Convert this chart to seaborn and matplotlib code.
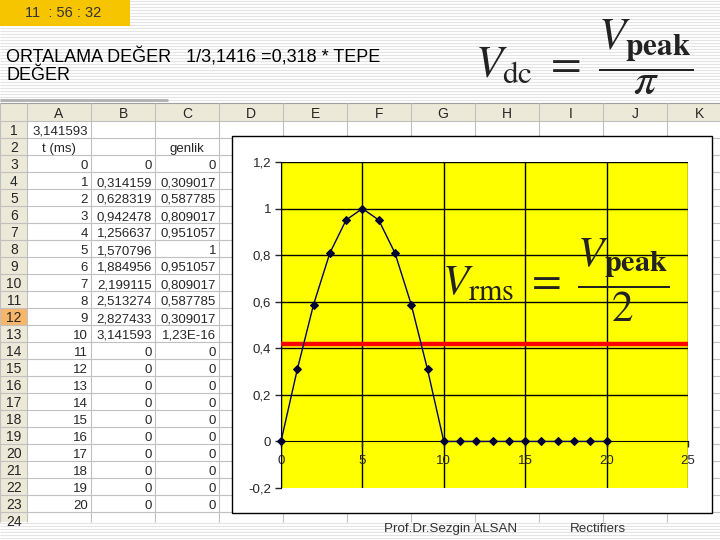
import matplotlib
matplotlib.use("Agg")
import numpy as np
import matplotlib.pyplot as plt
from matplotlib.patches import Rectangle
from matplotlib.ticker import FuncFormatter
import seaborn as sns

# worksheet values
pi_cell = 3.141593
t_ms = [0, 1, 2, 3, 4, 5, 6, 7, 8, 9, 10, 11, 12, 13, 14, 15, 16, 17, 18, 19, 20]
radyan = [0, 0.314159, 0.628319, 0.942478, 1.256637, 1.570796, 1.884956,
          2.199115, 2.513274, 2.827433, 3.141593, 0, 0, 0, 0, 0, 0, 0, 0, 0, 0]
genlik = [0, 0.309017, 0.587785, 0.809017, 0.951057, 1, 0.951057,
          0.809017, 0.587785, 0.309017, 1.23e-16, 0, 0, 0, 0, 0, 0, 0, 0, 0, 0]
ortalama = 0.42   # red line
col_letters = ["A", "B", "C", "D", "E", "F", "G", "H", "I", "J", "K"]
x_ticks = [0, 5, 10, 15, 20, 25]
y_ticks = [-0.2, 0, 0.2, 0.4, 0.6, 0.8, 1, 1.2]

sns.set_style("white")
plt.rcParams['font.family'] = ['Liberation Sans', 'DejaVu Sans']
plt.rcParams['mathtext.fontset'] = 'stix'


def excel_fmt(v):
    # mimic Excel "General" with comma decimals
    if v != 0 and abs(v) < 1e-6:
        s = "%.2E" % v
    else:
        s = ("%.6f" % v).rstrip("0").rstrip(".")
    return s.replace(".", ",")


fig = plt.figure(figsize=(7.2, 5.4), dpi=100)

# background layer in pixel coordinates
bg = fig.add_axes([0, 0, 1, 1])
bg.set_xlim(0, 720)
bg.set_ylim(540, 0)
bg.axis("off")

# slide stripes
bg.hlines(np.arange(1, 540, 3), 0, 720, color="#e4e4e4", lw=0.8, zorder=0)

# clock box
bg.add_patch(Rectangle((0, 0), 130, 26, facecolor="#F7C500", edgecolor="none", zorder=1))
bg.text(63, 13, "11  : 56 : 32", ha="center", va="center", fontsize=10.5, color="#333333", zorder=2)

# heading
bg.text(6, 57, "ORTALAMA DEĞER   1/3,1416 =0,318 * TEPE", ha="left", va="center",
        fontsize=13, color="black", zorder=2)
bg.text(6, 76, "DEĞER", ha="left", va="center", fontsize=13, color="black", zorder=2)

# Vdc formula
fig.text(584 / 720, 1 - 57 / 540, r"$V_{\mathrm{dc}}\ =\ \dfrac{V_{\mathbf{peak}}}{\pi}$",
         ha="center", va="center", fontsize=32, color="#222222")

# spreadsheet
sheet_top, head_h, row_h, sheet_bot = 103, 18, 17, 522
col_edges = [0, 27] + [27 + 64 * (i + 1) for i in range(len(col_letters))]
bg.add_patch(Rectangle((0, sheet_top), 720, sheet_bot - sheet_top, facecolor="white",
                       edgecolor="none", zorder=1))
bg.add_patch(Rectangle((0, sheet_top), 720, head_h, facecolor="#ECE9D8", edgecolor="none", zorder=1))
bg.add_patch(Rectangle((0, sheet_top), 27, sheet_bot - sheet_top, facecolor="#ECE9D8",
                       edgecolor="none", zorder=1))
bg.hlines([100], 0, 168, color="#b0b0b0", lw=2, zorder=1)

row_top = sheet_top + head_h
n_rows = 24
# active row highlight
bg.add_patch(Rectangle((0, row_top + 11 * row_h), 27, row_h, facecolor="#F8B66A",
                       edgecolor="none", zorder=1))
for k in range(n_rows + 1):
    y = row_top + k * row_h
    if y < sheet_bot:
        bg.hlines(y, 0, 720, color="#c0c0c0", lw=0.8, zorder=1.5)
bg.hlines(sheet_top, 0, 720, color="#a0a0a0", lw=0.8, zorder=1.5)
for xe in col_edges:
    bg.vlines(xe, sheet_top, sheet_bot, color="#c0c0c0", lw=0.8, zorder=1.5)

for i, c in enumerate(col_letters):
    xc = (col_edges[i + 1] + col_edges[i + 2]) / 2
    bg.text(xc, sheet_top + head_h - 3, c, ha="center", va="baseline", fontsize=10, zorder=2)
for k in range(n_rows):
    yb = row_top + (k + 1) * row_h - 3
    bg.text(14, yb, str(k + 1), ha="center", va="baseline", fontsize=10, zorder=2)


def cell(col, row, s, ha="right"):
    x0, x1 = col_edges[col + 1], col_edges[col + 2]
    yb = row_top + row * row_h - 3
    if ha == "right":
        bg.text(x1 - 3, yb, s, ha="right", va="baseline", fontsize=9.5, zorder=2)
    else:
        bg.text((x0 + x1) / 2, yb, s, ha="center", va="baseline", fontsize=9.5, zorder=2)


cell(0, 1, excel_fmt(pi_cell))
cell(0, 2, "t (ms)", ha="center")
cell(2, 2, "genlik", ha="center")
for i in range(len(t_ms)):
    cell(0, 3 + i, excel_fmt(t_ms[i]))
    cell(1, 3 + i, excel_fmt(radyan[i]))
    cell(2, 3 + i, excel_fmt(genlik[i]))

# chart area
bg.add_patch(Rectangle((232, 136), 480, 377, facecolor="white", edgecolor="black", lw=1, zorder=3))

# footer
bg.text(384, 529, "Prof.Dr.Sezgin ALSAN", ha="left", va="center", fontsize=9.6, color="#333333", zorder=2)
bg.text(570, 529, "Rectifiers", ha="left", va="center", fontsize=9.6, color="#333333", zorder=2)

# plot area
ax = fig.add_axes([281 / 720, 1 - 488 / 540, 407 / 720, 326 / 540])
ax.set_facecolor("#FFFF00")
sns.lineplot(x=t_ms, y=genlik, ax=ax, color="#000066", lw=1, marker="D", markersize=3.6,
             markeredgecolor="#000033", markerfacecolor="#000033", clip_on=False, zorder=4)
ax.axhline(ortalama, color="#FF0000", lw=3.2, zorder=3)

ax.set_xlim(0, 25)
ax.set_ylim(-0.2, 1.2)
ax.set_xticks(x_ticks)
ax.set_yticks(y_ticks)
fmt = FuncFormatter(lambda v, p: ("%g" % round(v, 2)).replace(".", ","))
ax.xaxis.set_major_formatter(fmt)
ax.yaxis.set_major_formatter(fmt)
ax.grid(True, color="black", lw=1)
for gl, v in zip(ax.get_xgridlines(), x_ticks):
    if v in (0, 25):
        gl.set_visible(False)
for gl, v in zip(ax.get_ygridlines(), y_ticks):
    if v in (-0.2, 0):
        gl.set_visible(False)
ax.spines["top"].set_visible(False)
ax.spines["right"].set_visible(False)
ax.spines["bottom"].set_position(("data", 0))
ax.spines["left"].set_color("black")
ax.spines["bottom"].set_color("black")
ax.tick_params(axis="y", direction="out", length=4, width=1, pad=3, labelsize=9.5, left=True)
ax.tick_params(axis="x", direction="out", length=4, width=1, pad=6, labelsize=9.5, bottom=True)
ax.set_xlabel("")
ax.set_ylabel("")

# Vrms formula
fig.text(556 / 720, 1 - 280 / 540, r"$V_{\mathrm{rms}}\ =\ \dfrac{V_{\mathbf{peak}}}{2}$",
         ha="center", va="center", fontsize=31, color="#222222")

fig.savefig("out.png", dpi=100)
